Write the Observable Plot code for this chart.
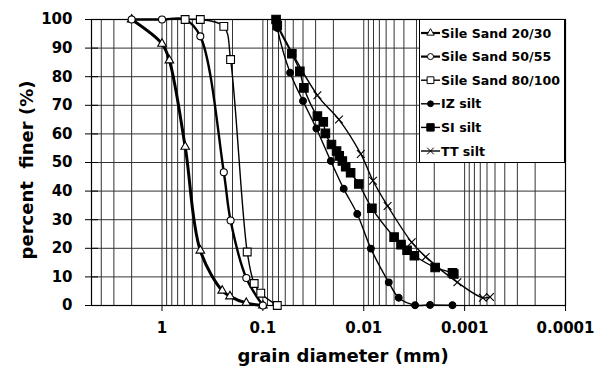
<!DOCTYPE html>
<html><head><meta charset="utf-8">
<script src="https://cdn.jsdelivr.net/npm/d3@7"></script>
<script src="https://cdn.jsdelivr.net/npm/@observablehq/plot@0.6"></script>
<style>
body{margin:0;background:#fff;}
#chart{position:relative;width:602px;height:367px;}
#chart svg text{font-family:"DejaVu Sans",sans-serif;font-weight:bold;}
#legend{position:absolute;left:419px;top:19px;}
</style></head><body><div id="chart"></div>
<script>
// ---- data (grain diameter in mm, percent finer) ----
const seriesNames = ["Sile Sand 20/30", "Sile Sand 50/55", "Sile Sand 80/100", "IZ silt", "SI silt", "TT silt"];

const sand2030D = [2.0, 1.0, 0.845, 0.589, 0.417, 0.253, 0.212, 0.146, 0.1];
const sand2030P = [100, 91.5, 85.7, 55.5, 19.2, 5.2, 3.2, 0.9, 0];

const sand5055D = [2.0, 1.0, 0.59, 0.417, 0.244, 0.209, 0.146, 0.1];
const sand5055P = [100, 100, 100, 94.1, 46.6, 29.7, 9.6, 0];

const sand80100D = [0.59, 0.417, 0.244, 0.209, 0.143, 0.122, 0.105, 0.072];
const sand80100P = [100, 100, 97.6, 86, 18.7, 7.7, 4.3, 0];

const izD = [0.074, 0.072, 0.0537, 0.040, 0.0295, 0.0212, 0.0158, 0.0116, 0.0085, 0.00565, 0.0045, 0.0031, 0.0022, 0.00132];
const izP = [100, 97, 81.4, 71.5, 61.9, 50.5, 40.8, 32, 19.9, 8.1, 2.7, 0.1, 0.2, 0.1];

const siD = [0.074, 0.072, 0.0516, 0.043, 0.0392, 0.0288, 0.0252, 0.024, 0.0209, 0.0186, 0.0175, 0.0163, 0.0151, 0.0135, 0.0112, 0.0083, 0.0050, 0.00427, 0.00372, 0.00315, 0.00196, 0.00132, 0.00128];
const siP = [100, 97.9, 88.0, 81.9, 76.1, 66.2, 64.2, 60.2, 56.3, 54.0, 52.3, 50.5, 48.5, 46.4, 42.5, 34.0, 23.9, 21.3, 19.3, 17.4, 13.3, 11.4, 11.0];

const ttD = [0.074, 0.072, 0.0288, 0.0176, 0.0107, 0.0081, 0.0058, 0.00335, 0.00243, 0.00118, 0.00066, 0.00056];
const ttP = [100, 98.5, 73.5, 65.0, 53.0, 43.6, 34.8, 22.1, 17.0, 8.1, 2.7, 3.0];

const xTickValues = [1, 0.1, 0.01, 0.001, 0.0001];
const xTickLabels = ["1", "0.1", "0.01", "0.001", "0.0001"];
const yTickValues = [0, 10, 20, 30, 40, 50, 60, 70, 80, 90, 100];
const xTitle = "grain diameter (mm)";
const yTitle = "percent\u00a0\u00a0finer (%)";

// ---- styles ----
const styles = [
  {symbol: "triangle", fill: "white", r: 3.2, sw: 3},
  {symbol: "circle", fill: "white", r: 3.5, sw: 2.4},
  {symbol: "square", fill: "white", r: 4.4, sw: 1.4},
  {symbol: "circle", fill: "black", r: 3.4, sw: 1.4},
  {symbol: "square", fill: "black", r: 4.8, sw: 1.4},
  {symbol: "times", fill: "none", r: 3.6, sw: 1.4}
];
const seriesD = [sand2030D, sand5055D, sand80100D, izD, siD, ttD];
const seriesP = [sand2030P, sand5055P, sand80100P, izP, siP, ttP];
const tables = seriesD.map((ds, k) => ds.map((d, i) => ({d, p: seriesP[k][i], s: seriesNames[k]})));

const xDomain = [5, 0.0001];
const xGrid = d3.scaleLog().domain([0.0001, 5]).ticks().filter(v => v <= 5);

const marks = [
  Plot.gridY(yTickValues, {stroke: "#333", strokeOpacity: 1, strokeWidth: 1}),
  Plot.gridX(xGrid, {stroke: "#333", strokeOpacity: 1, strokeWidth: 1}),
  Plot.frame({stroke: "black", strokeWidth: 1.2}),
  Plot.axisX(xTickValues, {tickFormat: d => xTickLabels[xTickValues.indexOf(d)], tickSize: 6, tickPadding: 11, fontSize: 15, label: null}),
  Plot.axisY(yTickValues, {tickSize: 13, dx: 7, tickPadding: 13, fontSize: 15, label: null})
];
tables.forEach((t, k) => {
  const st = styles[k];
  marks.push(Plot.line(t, {x: "d", y: "p", curve: "catmull-rom", stroke: "black", strokeWidth: st.sw}));
});
tables.forEach((t, k) => {
  const st = styles[k];
  marks.push(Plot.dot(t, {x: "d", y: "p", symbol: () => st.symbol, r: st.r,
    fill: st.symbol === "times" ? "none" : st.fill, stroke: "black", strokeWidth: 1.1}));
});

const chart = Plot.plot({
  width: 602, height: 367,
  marginLeft: 91, marginRight: 37, marginTop: 19, marginBottom: 62,
  x: {type: "log", domain: xDomain},
  y: {domain: [0, 100]},
  symbol: {type: "ordinal", domain: ["triangle","circle","square","times"], range: ["triangle","circle","square","times"]},
  style: {fontFamily: "DejaVu Sans", fontWeight: "bold", color: "black", background: "white"},
  marks
});
const host = document.getElementById("chart");
host.appendChild(chart);

// ---- axis titles ----
const svg = d3.select(chart);
svg.append("text").attr("x", 343).attr("y", 362).attr("text-anchor", "middle")
  .attr("font-size", 18).attr("fill", "black").text(xTitle);
svg.append("text").attr("transform", "translate(33,170) rotate(-90)").attr("text-anchor", "middle")
  .attr("font-size", 18).attr("fill", "black").text(yTitle);

// ---- legend (overlay) ----
const lsvg = d3.create("svg").attr("id", "legend").attr("width", 147).attr("height", 145);
host.appendChild(lsvg.node());
lsvg.append("rect").attr("x", 0.5).attr("y", 0.5).attr("width", 145).attr("height", 143)
  .attr("fill", "white").attr("stroke", "black").attr("stroke-width", 1);
const symMap = {triangle: d3.symbolTriangle, circle: d3.symbolCircle, square: d3.symbolSquare, times: d3.symbolTimes};
seriesNames.forEach((name, i) => {
  const st = styles[i];
  const cy = 14 + i * 23.6;
  lsvg.append("line").attr("x1", 2).attr("x2", 21).attr("y1", cy).attr("y2", cy)
    .attr("stroke", "black").attr("stroke-width", Math.min(st.sw, 2.2));
  lsvg.append("path").attr("transform", `translate(11.5,${cy})`)
    .attr("d", d3.symbol(symMap[st.symbol], Math.PI * st.r * st.r * 0.75)())
    .attr("fill", st.symbol === "times" ? "none" : st.fill).attr("stroke", "black").attr("stroke-width", 1);
  lsvg.append("text").attr("x", 22).attr("y", cy).attr("dy", "0.36em").attr("text-anchor", "start")
    .attr("font-size", 12.6).attr("fill", "black").text(name);
});
</script></body></html>
